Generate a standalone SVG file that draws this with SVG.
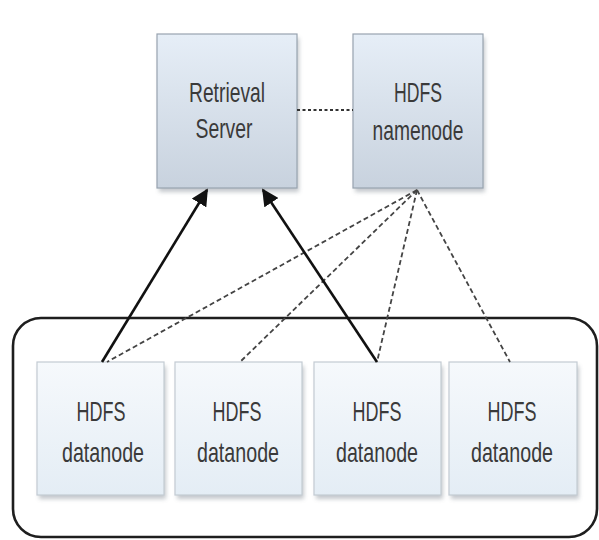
<svg xmlns="http://www.w3.org/2000/svg" width="599" height="540" viewBox="0 0 599 540">
  <style>
    .lbl { font-family: "Liberation Sans", "DejaVu Sans", sans-serif; font-size: 28px; fill: #3a3a3a; text-anchor: middle; }
    .top { fill: url(#topFill); stroke: #98a3b0; stroke-width: 1.2; }
    .data { fill: url(#dataFill); stroke: #c3cbd3; stroke-width: 1.2; }
    .shadow { fill: #7d8590; opacity: 0.45; filter: url(#soft); }
    .ctrl { fill: none; stroke: #444; stroke-width: 1.8; stroke-dasharray: 5 3; }
    .link { fill: none; stroke: #111; stroke-width: 2.6; marker-end: url(#arrow); }
  </style>
  <defs>
    <linearGradient id="topFill" x1="0" y1="0" x2="0" y2="1">
      <stop offset="0" stop-color="#e6eef7"/>
      <stop offset="1" stop-color="#c8d2de"/>
    </linearGradient>
    <linearGradient id="dataFill" x1="0" y1="0" x2="0" y2="1">
      <stop offset="0" stop-color="#f6f9fc"/>
      <stop offset="1" stop-color="#e4edf5"/>
    </linearGradient>
    <filter id="soft" x="-10%" y="-10%" width="120%" height="130%">
      <feGaussianBlur stdDeviation="2"/>
    </filter>
    <marker id="arrow" viewBox="0 0 10 10" refX="9" refY="5" markerWidth="6.5" markerHeight="6.5" orient="auto" markerUnits="strokeWidth">
      <path d="M0,0 L10,5 L0,10 Z" fill="#111"/>
    </marker>
  </defs>

  <rect width="599" height="540" fill="#ffffff"/>

  <!-- cluster frame around the datanodes -->
  <rect x="13" y="318" width="584" height="219" rx="28" ry="28" fill="none" stroke="#1e1e1e" stroke-width="2.6"/>

  <g id="retrieval-server">
    <rect class="shadow" x="159" y="38" width="140" height="154"/>
    <rect class="top" x="157" y="34" width="140" height="154"/>
    <text class="lbl" x="227" y="102" textLength="76" lengthAdjust="spacingAndGlyphs">Retrieval</text>
    <text class="lbl" x="224" y="138" textLength="57" lengthAdjust="spacingAndGlyphs">Server</text>
  </g>

  <g id="hdfs-namenode">
    <rect class="shadow" x="355" y="38" width="130" height="154"/>
    <rect class="top" x="353" y="34" width="130" height="154"/>
    <text class="lbl" x="418" y="102" textLength="48" lengthAdjust="spacingAndGlyphs">HDFS</text>
    <text class="lbl" x="418" y="140" textLength="91" lengthAdjust="spacingAndGlyphs">namenode</text>
  </g>

  <g id="datanode-1">
    <rect class="shadow" x="39" y="366" width="127" height="133"/>
    <rect class="data" x="37" y="362" width="127" height="133"/>
    <text class="lbl" x="101" y="421" textLength="49" lengthAdjust="spacingAndGlyphs">HDFS</text>
    <text class="lbl" x="103" y="462" textLength="82" lengthAdjust="spacingAndGlyphs">datanode</text>
  </g>

  <g id="datanode-2">
    <rect class="shadow" x="177" y="366" width="127" height="133"/>
    <rect class="data" x="175" y="362" width="127" height="133"/>
    <text class="lbl" x="237" y="421" textLength="49" lengthAdjust="spacingAndGlyphs">HDFS</text>
    <text class="lbl" x="238" y="462" textLength="82" lengthAdjust="spacingAndGlyphs">datanode</text>
  </g>

  <g id="datanode-3">
    <rect class="shadow" x="316" y="366" width="127" height="133"/>
    <rect class="data" x="314" y="362" width="127" height="133"/>
    <text class="lbl" x="377" y="421" textLength="49" lengthAdjust="spacingAndGlyphs">HDFS</text>
    <text class="lbl" x="377" y="462" textLength="82" lengthAdjust="spacingAndGlyphs">datanode</text>
  </g>

  <g id="datanode-4">
    <rect class="shadow" x="451" y="366" width="128" height="133"/>
    <rect class="data" x="449" y="362" width="128" height="133"/>
    <text class="lbl" x="512" y="421" textLength="49" lengthAdjust="spacingAndGlyphs">HDFS</text>
    <text class="lbl" x="512" y="462" textLength="82" lengthAdjust="spacingAndGlyphs">datanode</text>
  </g>

  <g id="connectors">
    <!-- server to namenode -->
    <line x1="297" y1="110" x2="353" y2="110" fill="none" stroke="#333" stroke-width="1.8" stroke-dasharray="3 2.5"/>
    <!-- namenode control lines to datanodes -->
    <line class="ctrl" x1="417" y1="190" x2="107" y2="362"/>
    <line class="ctrl" x1="417" y1="190" x2="240" y2="362"/>
    <line class="ctrl" x1="417" y1="190" x2="377" y2="362"/>
    <line class="ctrl" x1="417" y1="190" x2="510" y2="362"/>
    <!-- datanodes to retrieval server -->
    <line class="link" x1="102" y1="362" x2="207" y2="190"/>
    <line class="link" x1="377" y1="362" x2="263" y2="190"/>
  </g>
</svg>
